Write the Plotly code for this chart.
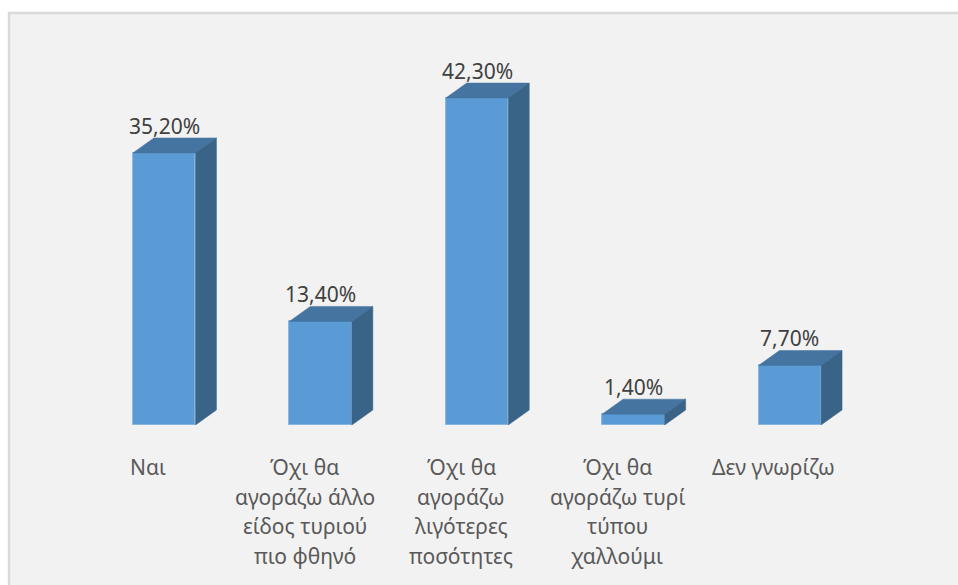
import plotly.graph_objects as go

categories = [
    "Ναι",
    "Όχι θα\nαγοράζω άλλο\nείδος τυριού\nπιο φθηνό",
    "Όχι θα\nαγοράζω\nλιγότερες\nποσότητες",
    "Όχι θα\nαγοράζω τυρί\nτύπου\nχαλλούμι",
    "Δεν γνωρίζω",
]
values = [35.2, 13.4, 42.3, 1.4, 7.7]
value_labels = ["35,20%", "13,40%", "42,30%", "1,40%", "7,70%"]

FRONT = "#5b9bd5"
TOP = "#44749f"
SIDE = "#3a6388"
BAR_W = 0.4
DEPTH_X = 0.134   # oblique depth, category units
DEPTH_Y = 1.94    # oblique depth, value units
Y_MAX = 48.0

W, H = 958, 585
ML, MR, MT, MB = 86, 90, 54, 160
PW, PH = W - ML - MR, H - MT - MB

xs = list(range(len(values)))

fig = go.Figure()

# front faces
fig.add_trace(go.Bar(
    x=xs, y=values, width=BAR_W,
    marker=dict(color=FRONT, line=dict(color="#7aaede", width=0.8)),
    hoverinfo="skip",
))

# top and side faces of each bar
for x, v in zip(xs, values):
    l, r = x - BAR_W / 2, x + BAR_W / 2
    fig.add_trace(go.Scatter(
        x=[l, r, r + DEPTH_X, l + DEPTH_X, l],
        y=[v, v, v + DEPTH_Y, v + DEPTH_Y, v],
        mode="lines", fill="toself", fillcolor=TOP,
        line=dict(color=TOP, width=0.5), hoverinfo="skip",
    ))
    fig.add_trace(go.Scatter(
        x=[r, r + DEPTH_X, r + DEPTH_X, r, r],
        y=[0, DEPTH_Y, v + DEPTH_Y, v, 0],
        mode="lines", fill="toself", fillcolor=SIDE,
        line=dict(color=SIDE, width=0.5), hoverinfo="skip",
    ))

annotations = []
for x, v, lab in zip(xs, values, value_labels):
    annotations.append(dict(
        x=x, y=v + DEPTH_Y, xref="x", yref="y", text=lab, showarrow=False,
        yanchor="bottom", yshift=-4,
        font=dict(family="Noto Sans", size=21, color="#404040"),
    ))
# category labels sit on the front edge of the floor, a little left of centre
for x, cat in zip(xs, categories):
    for k, line in enumerate(cat.split("\n")):
        annotations.append(dict(
            x=x, y=0, xref="x", yref="y", text=line, showarrow=False,
            yanchor="middle", yshift=-(42 + 29.5 * k), xshift=-16,
            font=dict(family="Noto Sans", size=21, color="#595959"),
        ))

# chart area panel with thin border, offset from the page edge
def px_to_paper_x(p):
    return (p - ML) / PW

def px_to_paper_y(p):
    return 1 - (p - MT) / PH

shapes = [dict(
    type="rect", xref="paper", yref="paper", layer="below",
    x0=px_to_paper_x(9), x1=px_to_paper_x(W + 5),
    y0=px_to_paper_y(H + 5), y1=px_to_paper_y(13),
    fillcolor="#f2f2f2", line=dict(color="#d9d9d9", width=2.5),
)]

fig.update_layout(
    width=W, height=H,
    margin=dict(l=ML, r=MR, t=MT, b=MB),
    paper_bgcolor="white", plot_bgcolor="rgba(0,0,0,0)",
    showlegend=False,
    xaxis=dict(range=[-0.5, len(values) - 0.5], visible=False, fixedrange=True),
    yaxis=dict(range=[0, Y_MAX], visible=False, fixedrange=True),
    annotations=annotations,
    shapes=shapes,
    bargap=0,
)

fig.write_html("out.html")
